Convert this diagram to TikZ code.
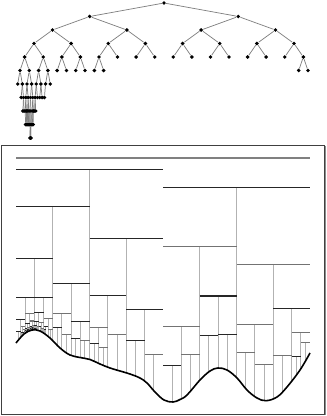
\documentclass[tikz,border=0pt]{standalone}
\newcommand\getf[1]{\pgfmathsetmacro\fv{343-1.125*(#1-16)+0.625*max(0,#1-24)+0.625*max(0,#1-32)+0.575*max(0,#1-40)+0.3*max(0,#1-50)-0.3*max(0,#1-60)-0.45*max(0,#1-70)-0.05*max(0,#1-80)+0.25*max(0,#1-90)-0.05*max(0,#1-100)-0.1*max(0,#1-110)+0.1*max(0,#1-130)+0.314*max(0,#1-140)+0.411*max(0,#1-147)-0.236*max(0,#1-155)-0.667*max(0,#1-164)-0.579*max(0,#1-173)-0.286*max(0,#1-180)-0.511*max(0,#1-187)+0.254*max(0,#1-200)+0.525*max(0,#1-210)+0.597*max(0,#1-218)+0.578*max(0,#1-227)+0.4*max(0,#1-237)-0.4*max(0,#1-247)-0.5*max(0,#1-257)-0.636*max(0,#1-266)-0.664*max(0,#1-277)-0.308*max(0,#1-287)-0.392*max(0,#1-300)}}
\begin{document}
\begin{tikzpicture}[x=0.75pt,y=-0.75pt,
  dot/.style={circle,fill=black,inner sep=0pt,minimum size=2.9pt},
  tedge/.style={draw=black!50,line width=0.55pt},
  vline/.style={draw=black!30,line width=0.75pt},
  hdark/.style={draw=black!85,line width=0.8pt},
  hgray/.style={draw=black!55,line width=0.8pt},
  hroot/.style={draw=black!50,line width=1.3pt},
  curve/.style={draw=black,line width=1.2pt},
  frame/.style={draw=black!75,line width=0.8pt}]
\useasboundingbox (0,0) rectangle (326,416);
\draw[frame] (1.5,145.5) rectangle (324.2,414.5);
\draw[draw=black!45,line width=0.8pt] (325.3,146) -- (325.3,415.3);
\foreach \d in {0,...,10}{
  \pgfmathsetmacro\w{294/2^\d}
  \pgfmathtruncatemacro\N{\d<=5 ? 2^\d-1 : floor(37/\w)}
  \pgfmathsetmacro\Lo{{0,0,0,0,0,0,0,21.5,22.5,25.5,30.3}[\d]}
  \pgfmathsetmacro\Hi{{999,999,999,999,999,999,999,45,36.5,34,31.6}[\d]}
  \pgfmathsetmacro\del{{241,190,134,72,36,18,9,4.5,2.25,1.125,0.56}[\d]}
  \foreach \i in {0,...,\N}{
    \pgfmathsetmacro\cx{16+(\i+0.5)*\w}
    \pgfmathtruncatemacro\inc{\d<=4 ? 1 : (\d==5 ? ((\i<=9 || \i>=30) ? 1 : 0) : (\d==6 ? (\i<=7 ? 1 : 0) : ((\cx>=\Lo && \cx<=\Hi) ? 1 : 0)))}
    \ifnum\inc=1
      \pgfmathsetmacro\tx{1.011*\cx-0.8}
      \pgfmathsetmacro\ty{3+13.5*\d}
      \node[dot] (t-\d-\i) at (\tx,\ty) {};
      \ifnum\d>0
        \pgfmathtruncatemacro\dp{\d-1}
        \pgfmathtruncatemacro\ip{floor(\i/2)}
        \draw[tedge] (t-\dp-\ip) -- (t-\d-\i);
      \fi
      \getf{\cx}
      \pgfmathsetmacro\yh{\fv-\del}
      \pgfmathsetmacro\xa{16+\i*\w}
      \pgfmathsetmacro\xb{\xa+\w}
      \ifnum\d>0
        \draw[vline] (\cx,\fv) -- (\cx,\yh);
      \fi
      \ifnum\d=0
        \draw[hroot] (\xa,\yh) -- (\xb,\yh);
      \else
        \ifnum\d<5
          \pgfmathtruncatemacro\k{2^\d-1+\i}
          \pgfmathtruncatemacro\cc{{0,1,1,1,1,0,0,1,1,1,1,0,1,0,1,1,1,0,1,0,0,1,0,1,0,1,1,0,0,0,0}[\k]}
        \else
          \pgfmathtruncatemacro\cc{mod(\i,2)==0 ? 1 : 0}
        \fi
        \ifnum\cc=1
          \draw[hdark] (\xa,\yh) -- (\xb,\yh);
        \else
          \draw[hgray] (\xa,\yh) -- (\xb,\yh);
        \fi
      \fi
    \fi
  }
}
\draw[curve] plot[smooth,tension=0.6] coordinates {(16,343) (24,334) (32,330) (40,331) (50,338) (60,348) (70,355) (80,357.5) (90,359.5) (100,364) (110,368) (120,371) (130,374) (140,378) (147,383) (155,392) (164,400) (173,402) (180,399.5) (187,395) (200,380) (210,371) (218,368) (227,370) (237,378) (247,390) (257,398) (266,400.7) (277,397) (287,387) (300,370) (310,353)};
\end{tikzpicture}
\end{document}
